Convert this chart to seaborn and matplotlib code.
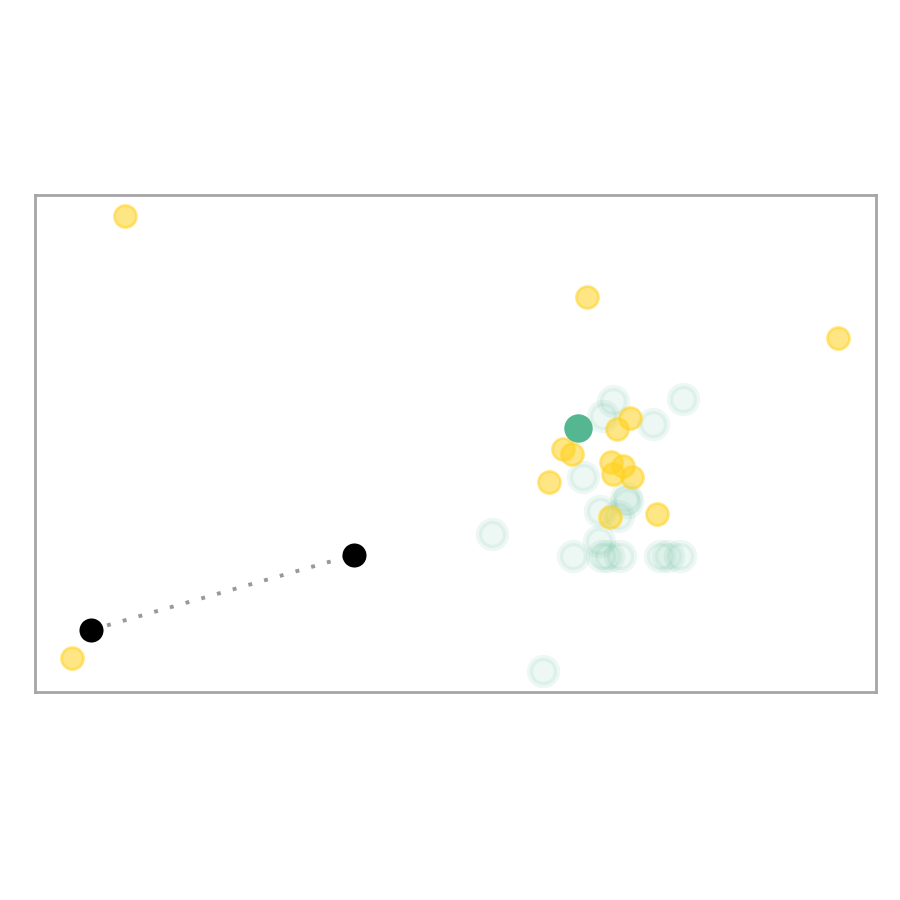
import numpy as np
import pandas as pd
import matplotlib
matplotlib.use("Agg")
import matplotlib.pyplot as plt
import seaborn as sns

sns.set_style("white")

# 数据（从图中读取，坐标归一到 0-100）
gold_x = [10.7, 65.6, 95.5, 4.4, 70.7, 69.2, 62.8, 63.9, 68.5, 69.9, 68.7, 71.0, 61.1, 74.0, 68.4]
gold_y = [95.8, 79.5, 71.2, 6.8, 55.1, 52.9, 48.9, 47.9, 46.3, 45.5, 43.9, 43.3, 42.3, 35.8, 35.2]

pale_x = [68.7, 67.5, 73.5, 77.1, 65.2, 70.3, 70.4, 67.2, 69.3, 54.3, 67.1,
          64.0, 67.4, 68.1, 69.6, 74.3, 75.3, 76.7, 60.4]
pale_y = [58.6, 55.5, 53.9, 59.0, 43.3, 39.0, 38.2, 36.4, 35.4, 31.8, 30.4,
          27.4, 27.4, 27.4, 27.4, 27.4, 27.4, 27.4, 4.2]

center_x = [64.6]
center_y = [53.1]

black_x = [6.7, 37.9]
black_y = [12.5, 27.6]

green = "#54B791"
gold = "#FFD21F"

fig = plt.figure(figsize=(9, 9), dpi=100)
ax = fig.add_axes([0.0389, 0.2311, 0.9344, 0.5522])

pale = pd.DataFrame({"x": pale_x, "y": pale_y})
sns.scatterplot(data=pale, x="x", y="y", ax=ax, s=380, color=green,
                edgecolor=green, linewidth=4.5, alpha=0.1, zorder=2)

golds = pd.DataFrame({"x": gold_x, "y": gold_y})
sns.scatterplot(data=golds, x="x", y="y", ax=ax, s=250, color=gold,
                edgecolor=gold, linewidth=2, alpha=0.55, zorder=3)

sns.scatterplot(x=center_x, y=center_y, ax=ax, s=420, color=green,
                edgecolor=green, linewidth=0, zorder=4)

ax.plot(black_x, black_y, color="#999999", linestyle=(0, (1, 3.2)), linewidth=2.8, zorder=4)
sns.scatterplot(x=black_x, y=black_y, ax=ax, s=300, color="black",
                edgecolor="black", linewidth=0, zorder=5)

ax.set_xlim(0, 100)
ax.set_ylim(0, 100)
ax.set_xticks([])
ax.set_yticks([])
ax.set_xlabel("")
ax.set_ylabel("")
for sp in ax.spines.values():
    sp.set_color("#A6A6A6")
    sp.set_linewidth(2)

plt.savefig("out.png", dpi=100)
plt.close()
